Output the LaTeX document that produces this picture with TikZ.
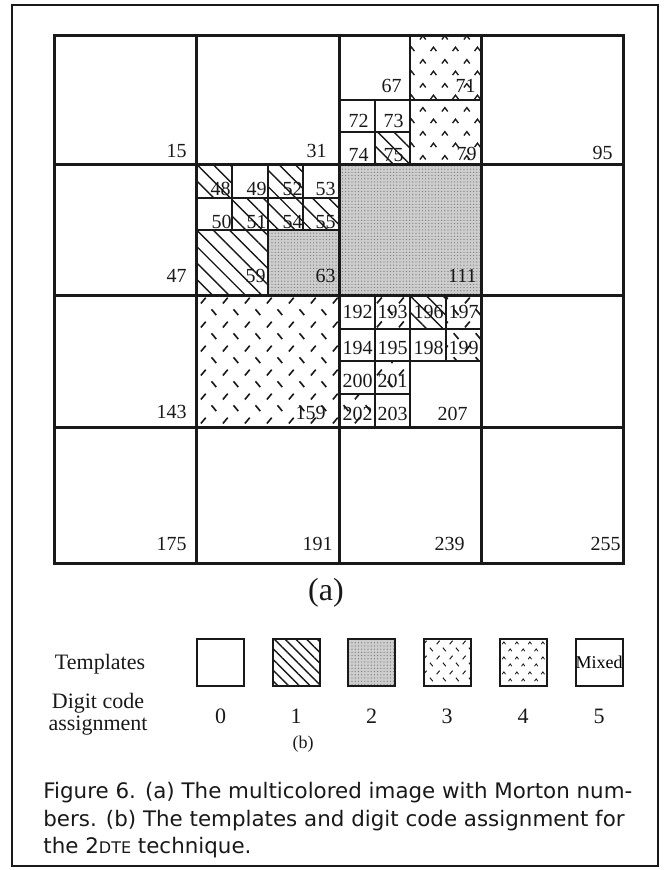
\documentclass[tikz,border=0pt]{standalone}
\usepackage{fontspec}
\setmainfont{Liberation Serif}
\newfontfamily\capfont{DejaVu Sans}
\usetikzlibrary{patterns.meta}
\definecolor{Ink}{RGB}{25,25,25}
\definecolor{Stipple}{RGB}{205,205,205}
\tikzdeclarepattern{
  name=ticks,
  type=uncolored,
  parameters={\ticksize},
  defaults={tick size/.store in=\ticksize,tick size=1},
  bounding box={(0pt,0pt) and (11pt,12pt)},
  tile size={(11pt,12pt)},
  tile transformation={scale=\ticksize},
  code={
    \draw[line width=.85pt] (1.5pt,7.5pt) -- (4pt,10.5pt) (7pt,4.5pt) -- (9.5pt,1.5pt);
  }
}
\tikzdeclarepattern{
  name=carets,
  type=uncolored,
  parameters={\caretsize},
  defaults={caret size/.store in=\caretsize,caret size=1},
  bounding box={(0pt,0pt) and (11pt,12pt)},
  tile size={(11pt,12pt)},
  tile transformation={scale=\caretsize},
  code={
    \draw[line width=.7pt] (1pt,7.5pt) -- (2.5pt,9.5pt) -- (4pt,7.5pt) (6.5pt,1.5pt) -- (8pt,3.5pt) -- (9.5pt,1.5pt);
  }
}
\tikzset{
  outerframe/.style={draw=Ink,line width=1.1pt},
  cellgrid/.style={draw=Ink,line width=1.5pt},
  subgrid/.style={draw=Ink,line width=1pt},
  tmplB/.style={pattern={Lines[angle=-45,distance=#1,line width=.7pt]},pattern color=Ink},
  tmplB/.default=5.8pt,
  tmplC/.style={preaction={fill=Stipple},pattern={Dots[radius=.3pt,distance=1.6pt]},pattern color=black!55},
  tmplD/.style={pattern={ticks[tick size=#1]},pattern color=Ink},
  tmplD/.default=1,
  tmplE/.style={pattern={carets[caret size=#1]},pattern color=Ink},
  tmplE/.default=1,
  num/.style={anchor=base east,inner sep=0pt,font=\fontsize{10}{10}\selectfont,text=Ink},
  tmplbox/.style={draw=Ink,line width=1pt,minimum size=23.5pt,inner sep=0pt},
  legendtext/.style={font=\fontsize{11}{11}\selectfont,text=Ink,align=center},
  captiontext/.style={font=\capfont\fontsize{10.7}{13.75}\selectfont,text=Ink,align=left,anchor=north west,inner sep=0pt}
}
\begin{document}
\begin{tikzpicture}[x=.5pt,y=-.5pt]
  \useasboundingbox (0,0) rectangle (669,870);
  \draw[outerframe] (12,5) rectangle (658,866);
  % filled cells
  \path[tmplE] (410,36) rectangle (481,165);
  \path[tmplB] (374.5,132.5) rectangle (410,165);
  \path[tmplB] (196,165) rectangle (231.75,197.75);
  \path[tmplB] (231.75,197.75) rectangle (267.5,230.5);
  \path[tmplB] (267.5,165) rectangle (303.25,197.75);
  \path[tmplB] (267.5,197.75) rectangle (339,230.5);
  \path[tmplB] (196,230.5) rectangle (267.5,296);
  \path[tmplC] (267.5,230.5) rectangle (339,296);
  \path[tmplC] (339,165) rectangle (481,296);
  \path[tmplD] (196,296) rectangle (339,427);
  \path[tmplD] (374.5,296) rectangle (410,329);
  \path[tmplB] (410,296) rectangle (445.5,329);
  \path[tmplD] (445.5,296) rectangle (481,361.5);
  \path[tmplD] (374.5,361.5) rectangle (410,394);
  \path[tmplD] (339,394) rectangle (374.5,427);
  % sub-divisions
  \draw[subgrid] (410,36) -- (410,165) (339,100) -- (481,100)
    (374.5,100) -- (374.5,165) (339,132.5) -- (410,132.5);
  \draw[subgrid] (267.5,165) -- (267.5,296) (196,230.5) -- (339,230.5)
    (231.75,165) -- (231.75,230.5) (303.25,165) -- (303.25,230.5) (196,197.75) -- (339,197.75);
  \draw[subgrid] (410,296) -- (410,427) (339,361.5) -- (481,361.5)
    (374.5,296) -- (374.5,427) (445.5,296) -- (445.5,361.5)
    (339,329) -- (481,329) (339,394) -- (410,394);
  % main grid
  \draw[cellgrid] (54,36) rectangle (623,563);
  \foreach \x in {196,339,481} \draw[cellgrid] (\x,36) -- (\x,563);
  \foreach \y in {165,296,427} \draw[cellgrid] (54,\y) -- (623,\y);
  % Morton numbers
  \foreach \t/\x/\y in {15/187/158,31/327/158,95/613/160,67/402/93,71/476/93,72/369/128,73/404/128,74/369/162,75/404/162,79/477/161,
    47/187/283,48/231/196,49/267/196,52/303/196,53/336/196,50/232/229,51/267/229,54/303/229,55/336/229,59/266/283,63/336/283,111/477/283,
    143/187/418,159/326/420,192/373/319,193/408/319,196/444/319,197/479/319,194/373/355,195/408/355,198/444/355,199/479/355,
    200/373/387,201/408/387,202/373/421,203/408/421,207/468/421,175/187/550,191/333/550,239/465/550,255/621/550}
    \node[num] (m\t) at (\x,\y) {\t};
  \node[font=\fontsize{16}{16}\selectfont,text=Ink] (parta) at (326,593) {(a)};
  % templates
  \node[legendtext] (tpl) at (100,664) {Templates};
  \node[tmplbox] (t0) at (220.5,662) {};
  \node[tmplbox,tmplB=3.8pt] (t1) at (296,662) {};
  \node[tmplbox,tmplC] (t2) at (371.5,662) {};
  \node[tmplbox,tmplD=.6] (t3) at (447,662) {};
  \node[tmplbox,tmplE=.6] (t4) at (523,662) {};
  \node[tmplbox,font=\fontsize{9}{9}\selectfont] (t5) at (599,662) {Mixed};
  \node[legendtext] (dca) at (98,714) {Digit code\\assignment};
  \foreach \d/\x in {0/220.5,1/296,2/371.5,3/447,4/523,5/599}
    \node[legendtext] (d\d) at (\x,716) {\d};
  \node[font=\fontsize{9}{9}\selectfont,text=Ink] (partb) at (303,744) {(b)};
  \node[captiontext] (cap) at (43,782) {Figure 6. (a) The multicolored image with Morton num-\\bers. (b) The templates and digit code assignment for\\the 2{\fontsize{8}{8}\selectfont DTE} technique.};
\end{tikzpicture}
\end{document}
